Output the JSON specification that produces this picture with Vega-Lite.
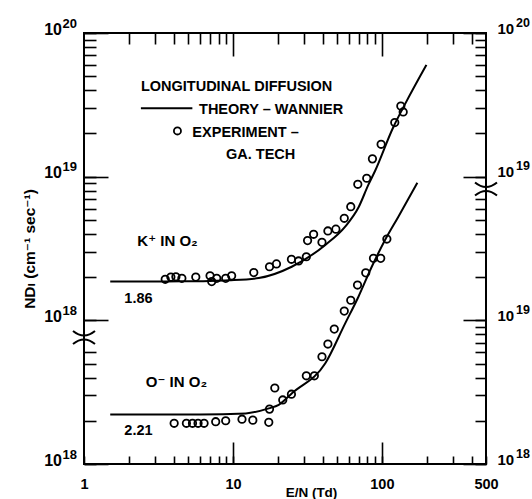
{
  "$schema": "https://vega.github.io/schema/vega-lite/v6.json",
  "width": 402,
  "height": 431,
  "autosize": {"type": "none"},
  "padding": {"left": 84, "top": 33, "right": 46, "bottom": 35},
  "background": "white",
  "config": {
    "view": {"stroke": "black", "strokeWidth": 2},
    "font": "Liberation Sans, DejaVu Sans",
    "axis": {
      "domain": false, "grid": false, "tickColor": "black", "tickWidth": 1.6,
      "labelColor": "black", "labelFont": "Liberation Sans, DejaVu Sans", "labelFontWeight": "bold",
      "labelOverlap": false, "labelFlush": false, "labelBound": false,
      "titleColor": "black", "titleFont": "Liberation Sans, DejaVu Sans", "titleFontWeight": "bold", "titleFontSize": 13
    },
    "text": {"font": "Liberation Sans, DejaVu Sans", "fontWeight": "bold", "fontSize": 14.5, "align": "left", "baseline": "alphabetic", "color": "black"}
  },
  "datasets": {
    "one": [{}],
    "kcurve": [
      {"EN": 1.5, "NDL": 1.86e18}, {"EN": 3, "NDL": 1.86e18}, {"EN": 5, "NDL": 1.87e18}, {"EN": 7, "NDL": 1.88e18},
      {"EN": 9.4, "NDL": 1.9e18}, {"EN": 14.9, "NDL": 1.97e18}, {"EN": 24.8, "NDL": 2.36e18}, {"EN": 41.7, "NDL": 3.35e18},
      {"EN": 56.7, "NDL": 4.49e18}, {"EN": 69.6, "NDL": 6.1e18}, {"EN": 81.2, "NDL": 8.8e18}, {"EN": 90.1, "NDL": 1.1e19},
      {"EN": 119, "NDL": 2.2e19}, {"EN": 143, "NDL": 3.2e19}, {"EN": 199, "NDL": 6.0e19}
    ],
    "kpts": [
      {"EN": 3.51, "NDL": 1.93e18}, {"EN": 3.83, "NDL": 2.0e18}, {"EN": 4.14, "NDL": 2.01e18}, {"EN": 4.54, "NDL": 1.96e18},
      {"EN": 5.63, "NDL": 2.0e18}, {"EN": 7.02, "NDL": 2.04e18}, {"EN": 7.2, "NDL": 1.86e18}, {"EN": 7.78, "NDL": 1.96e18},
      {"EN": 8.94, "NDL": 1.96e18}, {"EN": 9.8, "NDL": 2.04e18}, {"EN": 13.8, "NDL": 2.15e18}, {"EN": 17.6, "NDL": 2.36e18},
      {"EN": 19.6, "NDL": 2.47e18}, {"EN": 24.7, "NDL": 2.66e18}, {"EN": 27.6, "NDL": 2.59e18}, {"EN": 31.1, "NDL": 2.77e18},
      {"EN": 31.7, "NDL": 3.59e18}, {"EN": 34.8, "NDL": 3.97e18}, {"EN": 39.6, "NDL": 3.49e18}, {"EN": 43.4, "NDL": 4.19e18},
      {"EN": 49.1, "NDL": 4.31e18}, {"EN": 55.9, "NDL": 5.13e18}, {"EN": 61.8, "NDL": 6.18e18}, {"EN": 68.9, "NDL": 8.85e18},
      {"EN": 79.1, "NDL": 9.75e18}, {"EN": 86.4, "NDL": 1.33e19}, {"EN": 98.8, "NDL": 1.68e19}, {"EN": 122, "NDL": 2.38e19},
      {"EN": 139, "NDL": 2.82e19}, {"EN": 134, "NDL": 3.1e19}
    ],
    "ocurve": [
      {"EN": 1.5, "NDL": 2.21e18}, {"EN": 6, "NDL": 2.21e18}, {"EN": 12.2, "NDL": 2.25e18}, {"EN": 17.4, "NDL": 2.44e18},
      {"EN": 20.3, "NDL": 2.58e18}, {"EN": 24.9, "NDL": 3.11e18}, {"EN": 41.7, "NDL": 5.03e18}, {"EN": 56.7, "NDL": 9.53e18},
      {"EN": 69.6, "NDL": 1.46e19}, {"EN": 85.5, "NDL": 2.36e19}, {"EN": 105, "NDL": 3.62e19}, {"EN": 129, "NDL": 5.26e19},
      {"EN": 173, "NDL": 9.08e19}
    ],
    "opts": [
      {"EN": 4.03, "NDL": 1.92e18}, {"EN": 4.87, "NDL": 1.92e18}, {"EN": 5.35, "NDL": 1.92e18}, {"EN": 5.83, "NDL": 1.92e18},
      {"EN": 6.4, "NDL": 1.92e18}, {"EN": 7.66, "NDL": 1.97e18}, {"EN": 8.94, "NDL": 2.0e18}, {"EN": 11.5, "NDL": 2.05e18},
      {"EN": 13.6, "NDL": 2.02e18}, {"EN": 17.4, "NDL": 1.95e18}, {"EN": 17.6, "NDL": 2.41e18}, {"EN": 19.1, "NDL": 3.38e18},
      {"EN": 21.6, "NDL": 2.79e18}, {"EN": 24.7, "NDL": 3.06e18}, {"EN": 31.1, "NDL": 4.11e18}, {"EN": 35.2, "NDL": 4.11e18},
      {"EN": 39.6, "NDL": 5.58e18}, {"EN": 43.4, "NDL": 6.84e18}, {"EN": 47.9, "NDL": 8.69e18}, {"EN": 55.9, "NDL": 1.16e19},
      {"EN": 61.8, "NDL": 1.38e19}, {"EN": 68.6, "NDL": 1.76e19}, {"EN": 77.9, "NDL": 2.14e19}, {"EN": 87.8, "NDL": 2.7e19},
      {"EN": 98.2, "NDL": 2.7e19}, {"EN": 108, "NDL": 3.68e19}
    ]
  },
  "resolve": {"scale": {"y": "independent"}, "axis": {"x": "independent", "y": "independent"}},
  "layer": [
    {
      "data": {"name": "kcurve"},
      "mark": {"type": "line", "color": "black", "strokeWidth": 2, "interpolate": "monotone"},
      "encoding": {
        "x": {"field": "EN", "type": "quantitative", "scale": {"type": "log", "domain": [1, 500], "nice": false}, "axis": null},
        "y": {"field": "NDL", "type": "quantitative", "scale": {"type": "log", "domain": [1e17, 1e20], "nice": false}, "axis": null}
      }
    },
    {
      "data": {"name": "kpts"},
      "mark": {"type": "point", "filled": false, "color": "black", "size": 55, "strokeWidth": 1.8, "opacity": 1},
      "encoding": {
        "x": {"field": "EN", "type": "quantitative", "scale": {"type": "log", "domain": [1, 500], "nice": false}, "axis": null},
        "y": {"field": "NDL", "type": "quantitative", "scale": {"type": "log", "domain": [1e17, 1e20], "nice": false}, "axis": null}
      }
    },
    {
      "data": {"name": "ocurve"},
      "mark": {"type": "line", "color": "black", "strokeWidth": 2, "interpolate": "monotone"},
      "encoding": {
        "x": {"field": "EN", "type": "quantitative", "scale": {"type": "log", "domain": [1, 500], "nice": false}, "axis": null},
        "y": {"field": "NDL", "type": "quantitative", "scale": {"type": "log", "domain": [1e18, 1e21], "nice": false}, "axis": null}
      }
    },
    {
      "data": {"name": "opts"},
      "mark": {"type": "point", "filled": false, "color": "black", "size": 55, "strokeWidth": 1.8, "opacity": 1},
      "encoding": {
        "x": {"field": "EN", "type": "quantitative", "scale": {"type": "log", "domain": [1, 500], "nice": false}, "axis": null},
        "y": {"field": "NDL", "type": "quantitative", "scale": {"type": "log", "domain": [1e18, 1e21], "nice": false}, "axis": null}
      }
    },
    {
      "data": {"name": "one"},
      "mark": {"type": "text", "text": "LONGITUDINAL DIFFUSION"},
      "encoding": {
        "x": {"datum": 2.41, "type": "quantitative", "scale": {"type": "log", "domain": [1, 500], "nice": false}, "axis": null},
        "y": {"datum": 3.96e19, "type": "quantitative", "scale": {"type": "log", "domain": [1e17, 1e20], "nice": false}, "axis": null}
      }
    },
    {
      "data": {"name": "one"},
      "mark": {"type": "rule", "color": "black", "strokeWidth": 2},
      "encoding": {
        "x": {"datum": 2.41, "type": "quantitative", "scale": {"type": "log", "domain": [1, 500], "nice": false}, "axis": null},
        "x2": {"datum": 5.34},
        "y": {"datum": 2.99e19, "type": "quantitative", "scale": {"type": "log", "domain": [1e17, 1e20], "nice": false}, "axis": null}
      }
    },
    {
      "data": {"name": "one"},
      "mark": {"type": "text", "text": "THEORY – WANNIER"},
      "encoding": {
        "x": {"datum": 5.92, "type": "quantitative", "scale": {"type": "log", "domain": [1, 500], "nice": false}, "axis": null},
        "y": {"datum": 2.73e19, "type": "quantitative", "scale": {"type": "log", "domain": [1e17, 1e20], "nice": false}, "axis": null}
      }
    },
    {
      "data": {"name": "one"},
      "mark": {"type": "point", "filled": false, "color": "black", "size": 50, "strokeWidth": 1.8, "opacity": 1},
      "encoding": {
        "x": {"datum": 4.24, "type": "quantitative", "scale": {"type": "log", "domain": [1, 500], "nice": false}, "axis": null},
        "y": {"datum": 2.08e19, "type": "quantitative", "scale": {"type": "log", "domain": [1e17, 1e20], "nice": false}, "axis": null}
      }
    },
    {
      "data": {"name": "one"},
      "mark": {"type": "text", "text": "EXPERIMENT –"},
      "encoding": {
        "x": {"datum": 5.34, "type": "quantitative", "scale": {"type": "log", "domain": [1, 500], "nice": false}, "axis": null},
        "y": {"datum": 1.9e19, "type": "quantitative", "scale": {"type": "log", "domain": [1e17, 1e20], "nice": false}, "axis": null}
      }
    },
    {
      "data": {"name": "one"},
      "mark": {"type": "text", "text": "GA. TECH"},
      "encoding": {
        "x": {"datum": 8.98, "type": "quantitative", "scale": {"type": "log", "domain": [1, 500], "nice": false}, "axis": null},
        "y": {"datum": 1.33e19, "type": "quantitative", "scale": {"type": "log", "domain": [1e17, 1e20], "nice": false}, "axis": null}
      }
    },
    {
      "data": {"name": "one"},
      "mark": {"type": "text", "text": "K⁺ IN O₂", "fontSize": 15},
      "encoding": {
        "x": {"datum": 2.28, "type": "quantitative", "scale": {"type": "log", "domain": [1, 500], "nice": false}, "axis": null},
        "y": {"datum": 3.3e18, "type": "quantitative", "scale": {"type": "log", "domain": [1e17, 1e20], "nice": false}, "axis": null}
      }
    },
    {
      "data": {"name": "one"},
      "mark": {"type": "text", "text": "1.86"},
      "encoding": {
        "x": {"datum": 1.866, "type": "quantitative", "scale": {"type": "log", "domain": [1, 500], "nice": false}, "axis": null},
        "y": {"datum": 1.315e18, "type": "quantitative", "scale": {"type": "log", "domain": [1e17, 1e20], "nice": false}, "axis": null}
      }
    },
    {
      "data": {"name": "one"},
      "mark": {"type": "text", "text": "O⁻ IN O₂", "fontSize": 15},
      "encoding": {
        "x": {"datum": 2.6, "type": "quantitative", "scale": {"type": "log", "domain": [1, 500], "nice": false}, "axis": null},
        "y": {"datum": 3.43e18, "type": "quantitative", "scale": {"type": "log", "domain": [1e18, 1e21], "nice": false}, "axis": null}
      }
    },
    {
      "data": {"name": "one"},
      "mark": {"type": "text", "text": "2.21"},
      "encoding": {
        "x": {"datum": 1.866, "type": "quantitative", "scale": {"type": "log", "domain": [1, 500], "nice": false}, "axis": null},
        "y": {"datum": 1.59e18, "type": "quantitative", "scale": {"type": "log", "domain": [1e18, 1e21], "nice": false}, "axis": null}
      }
    },
    {
      "data": {"name": "one"},
      "mark": {"type": "point", "shape": "M -1 -0.59 Q 0 0.23 1 -0.59 M -1 0.59 Q 0 -0.23 1 0.59", "filled": false, "color": "black", "size": 484, "strokeWidth": 2, "opacity": 1},
      "encoding": {
        "x": {"datum": 1, "type": "quantitative", "scale": {"type": "log", "domain": [1, 500], "nice": false}, "axis": null},
        "y": {"datum": 7.6e17, "type": "quantitative", "scale": {"type": "log", "domain": [1e17, 1e20], "nice": false}, "axis": null}
      }
    },
    {
      "data": {"name": "one"},
      "mark": {"type": "point", "shape": "M -1 -0.59 Q 0 0.23 1 -0.59 M -1 0.59 Q 0 -0.23 1 0.59", "filled": false, "color": "black", "size": 484, "strokeWidth": 2, "opacity": 1},
      "encoding": {
        "x": {"datum": 500, "type": "quantitative", "scale": {"type": "log", "domain": [1, 500], "nice": false}, "axis": null},
        "y": {"datum": 8.2e19, "type": "quantitative", "scale": {"type": "log", "domain": [1e18, 1e21], "nice": false}, "axis": null}
      }
    },
    {
      "mark": {"type": "point", "opacity": 0},
      "encoding": {
        "x": {"datum": 10, "type": "quantitative", "scale": {"type": "log", "domain": [1, 500], "nice": false},
          "axis": {"orient": "bottom", "values": [1,2,3,4,5,6,7,8,9,10,20,30,40,50,60,70,80,90,100,200,300,400,500],
            "tickSize": -8, "labelPadding": 21, "labelBaseline": "top", "labelFontSize": 14.5,
            "labelExpr": "indexof([1,10,100,500], datum.value) >= 0 ? datum.value + '' : ''",
            "title": "E/N (Td)", "titleFontSize": 13.5, "titlePadding": -5, "titleX": 227}}
      }
    },
    {
      "mark": {"type": "point", "opacity": 0},
      "encoding": {
        "x": {"datum": 10, "type": "quantitative", "scale": {"type": "log", "domain": [1, 500], "nice": false},
          "axis": {"orient": "bottom", "values": [10, 100], "tickSize": -22, "labels": false, "title": null}}
      }
    },
    {
      "mark": {"type": "point", "opacity": 0},
      "encoding": {
        "x": {"datum": 10, "type": "quantitative", "scale": {"type": "log", "domain": [1, 500], "nice": false},
          "axis": {"orient": "top", "values": [2,3,4,5,6,7,8,9,20,30,40,50,60,70,80,90,200,300,400], "tickSize": -11, "labels": false, "title": null}}
      }
    },
    {
      "mark": {"type": "point", "opacity": 0},
      "encoding": {
        "x": {"datum": 10, "type": "quantitative", "scale": {"type": "log", "domain": [1, 500], "nice": false},
          "axis": {"orient": "top", "values": [10, 100], "tickSize": -23, "labels": false, "title": null}}
      }
    },
    {
      "mark": {"type": "point", "opacity": 0},
      "encoding": {
        "y": {"datum": 1e18, "type": "quantitative", "scale": {"type": "log", "domain": [1e17, 1e20], "nice": false},
          "axis": {"orient": "left", "values": [1e17,2e17,3e17,4e17,5e17,6e17,1e18,2e18,3e18,4e18,5e18,6e18,7e18,8e18,9e18,1e19,2e19,3e19,4e19,5e19,6e19,7e19,8e19,9e19,1e20],
            "tickSize": -12, "labelPadding": 34.5, "labelFontSize": 16, "labelBaseline": "alphabetic", "labelOffset": 1,
            "labelExpr": "indexof([1e17,1e18,1e19,1e20], datum.value) >= 0 ? '10' : ''",
            "title": "NDₗ (cm⁻¹ sec⁻¹)", "titleFontSize": 15.5, "titlePadding": 6}}
      }
    },
    {
      "mark": {"type": "point", "opacity": 0},
      "encoding": {
        "y": {"datum": 1e18, "type": "quantitative", "scale": {"type": "log", "domain": [1e17, 1e20], "nice": false},
          "axis": {"orient": "left", "values": [1e17, 1e18, 1e19, 1e20], "tickSize": -24, "labelPadding": 31.5, "labelFontSize": 13,
            "labelBaseline": "alphabetic", "labelOffset": -6,
            "labelExpr": "datum.value == 1e20 ? '20' : datum.value == 1e19 ? '19' : '18'", "title": null}}
      }
    },
    {
      "mark": {"type": "point", "opacity": 0},
      "encoding": {
        "y": {"datum": 1e19, "type": "quantitative", "scale": {"type": "log", "domain": [1e18, 1e21], "nice": false},
          "axis": {"orient": "right", "values": [1e18,2e18,3e18,4e18,5e18,6e18,7e18,8e18,9e18,1e19,2e19,3e19,4e19,5e19,6e19,7e19,1e20,2e20,3e20,4e20,5e20,6e20,7e20,8e20,9e20,1e21],
            "tickSize": -11, "labelPadding": 22, "labelFontSize": 15, "labelBaseline": "alphabetic", "labelOffset": 0,
            "labelExpr": "indexof([1e18,1e19,1e20,1e21], datum.value) >= 0 ? '10' : ''", "title": null}}
      }
    },
    {
      "mark": {"type": "point", "opacity": 0},
      "encoding": {
        "y": {"datum": 1e19, "type": "quantitative", "scale": {"type": "log", "domain": [1e18, 1e21], "nice": false},
          "axis": {"orient": "right", "values": [1e18, 1e19, 1e20, 1e21], "tickSize": -23, "labelPadding": 52.5, "labelFontSize": 12.5,
            "labelBaseline": "alphabetic", "labelOffset": -7,
            "labelExpr": "datum.value == 1e21 ? '20' : datum.value == 1e18 ? '18' : '19'", "title": null}}
      }
    }
  ]
}
